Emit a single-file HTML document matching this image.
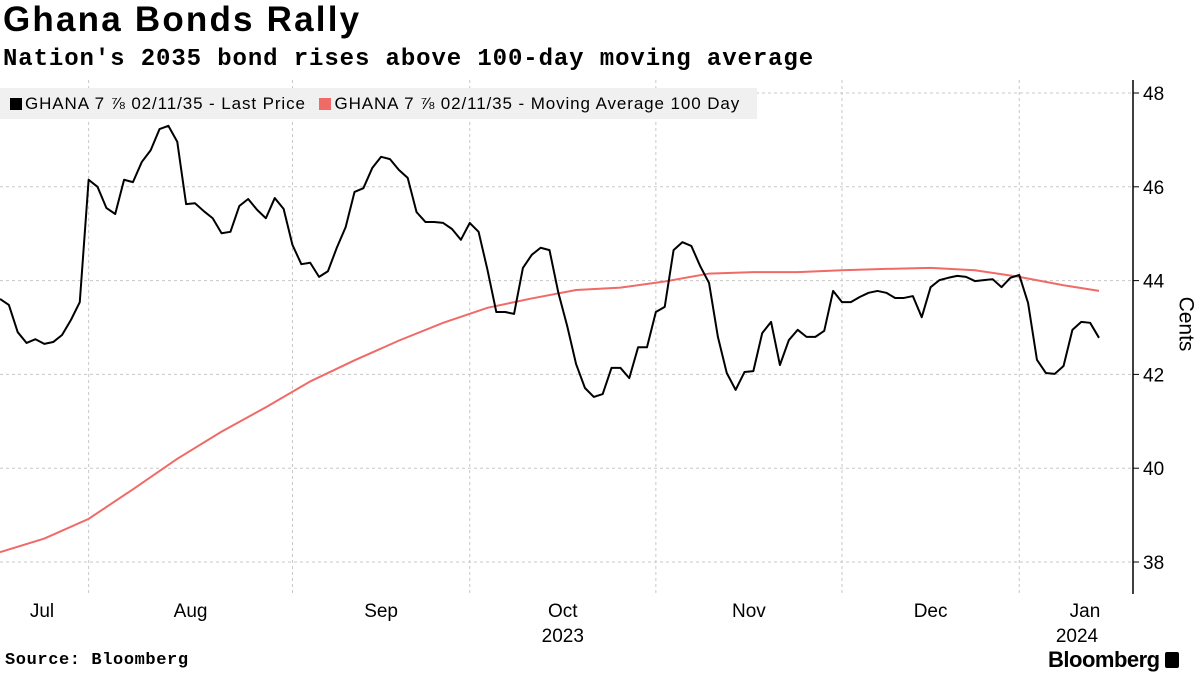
<!DOCTYPE html>
<html><head><meta charset="utf-8"><style>
body{margin:0;background:#fff;font-family:"Liberation Sans",sans-serif;}
#wrap{position:relative;width:1200px;height:675px;overflow:hidden;}
.t{position:absolute;white-space:nowrap;}
</style></head><body>
<div id="wrap">
<div class="t" style="left:3px;top:0px;font-size:35px;font-weight:bold;letter-spacing:2.2px">Ghana Bonds Rally</div>
<div class="t" style="left:3px;top:46px;font-size:24px;font-weight:bold;font-family:'Liberation Mono',monospace;letter-spacing:0.9px">Nation's 2035 bond rises above 100-day moving average</div>
<svg id="chart" width="1200" height="675" style="position:absolute;left:0;top:0"></svg>
<div class="t" style="left:0;top:88px;width:757px;height:31px;background:#f0f0f0;font-size:17px;line-height:31px;letter-spacing:0.9px">
<span style="margin-left:10px"><span style="display:inline-block;width:12px;height:12px;background:#000;vertical-align:-1px;margin-right:3px"></span>GHANA 7 ⅞ 02/11/35 - Last Price</span>
<span style="margin-left:8px"><span style="display:inline-block;width:12px;height:12px;background:#f06a67;vertical-align:-1px;margin-right:3px"></span>GHANA 7 ⅞ 02/11/35 - Moving Average 100 Day</span>
</div>
<div class="t" style="left:1158px;top:312px;font-size:21px;transform:rotate(90deg);">Cents</div>
<div class="t" style="left:5px;top:651px;font-size:17px;font-weight:bold;font-family:'Liberation Mono',monospace;letter-spacing:0.6px">Source: Bloomberg</div>
<div class="t" style="left:1048px;top:647px;font-size:22px;font-weight:bold;letter-spacing:-0.5px">Bloomberg <span style="display:inline-block;width:14px;height:16px;background:#000;border-radius:2px;vertical-align:-1px"></span></div>
</div>
<script>
const lastPrice=[43.61,43.48,42.90,42.67,42.75,42.65,42.69,42.84,43.16,43.54,46.15,46.00,45.55,45.42,46.15,46.10,46.53,46.78,47.23,47.30,46.96,45.63,45.65,45.48,45.33,45.01,45.04,45.59,45.74,45.51,45.33,45.76,45.53,44.76,44.35,44.38,44.08,44.20,44.70,45.14,45.89,45.97,46.40,46.64,46.59,
46.36,46.19,45.46,45.25,45.25,45.23,45.10,44.87,45.23,45.04,44.23,43.33,43.33,43.29,44.27,44.55,44.70,44.65,43.74,43.03,42.22,41.71,41.52,41.58,42.14,42.14,41.92,42.58,42.58,43.33,43.44,44.65,44.82,44.74,44.31,43.95,42.80,42.03,41.67,42.05,42.07,42.88,43.12,42.20,
42.73,42.95,42.80,42.80,42.93,43.78,43.54,43.54,43.65,43.74,43.78,43.74,43.63,43.63,43.67,43.22,43.86,44.01,44.06,44.10,44.08,43.99,44.01,44.03,43.86,44.06,44.12,43.52,42.31,42.03,42.01,42.18,42.95,43.12,43.10,42.78];
const maIndex=[0,5,10,15,20,25,30,35,40,45,50,55,60,65,70,75,80,85,90,95,100,105,110,115,120,124];
const maValues=[38.21,38.50,38.92,39.55,40.20,40.78,41.30,41.85,42.30,42.72,43.10,43.42,43.62,43.80,43.85,43.98,44.15,44.18,44.18,44.22,44.25,44.27,44.22,44.08,43.90,43.78];
const yTicks=[38,40,42,44,46,48];
const monthLabels=["Jul","Aug","Sep","Oct","Nov","Dec","Jan"];
const monthStartIdx=[-11,10,33,53,74,95,115];
const yearLabels=[["2023",3],["2024",6]];

const svg=document.getElementById('chart');const NS='http://www.w3.org/2000/svg';
const X0=0,DX=1099/124,Y0=93,PPU=46.9;
const x=i=>X0+i*DX, y=v=>Y0+(48-v)*PPU;
function mk(t,a,p){const e=document.createElementNS(NS,t);for(const k in a)e.setAttribute(k,a[k]);(p||svg).appendChild(e);return e;}
yTicks.forEach(v=>{
 const g=mk('line',{x1:0,x2:1133,y1:y(v),y2:y(v),stroke:'#c8c8c8','stroke-dasharray':'3,3'});
 
 
 const tk=mk('line',{x1:1133,x2:1139,y1:y(v),y2:y(v),stroke:'#000'});
 
 
 const t=mk('text',{x:1143,y:y(v)+7,'font-size':19,'font-family':'Liberation Sans,sans-serif'});t.textContent=v;
 
 
});
const bounds=monthStartIdx.slice(1).map(i=>x(i));
bounds.forEach(bx=>{
 const g=mk('line',{x1:bx,x2:bx,y1:80,y2:593,stroke:'#c8c8c8','stroke-dasharray':'3,3'});
 
 
});
monthLabels.forEach((m,k)=>{
 const a=Math.max(0,x(monthStartIdx[k])), b=k<6?x(monthStartIdx[k+1]):1150;
 const cx=k===0?42:(k===6?1085:(a+b)/2);
 const t=mk('text',{x:cx,y:617,'font-size':19,'text-anchor':'middle','font-family':'Liberation Sans,sans-serif'});t.textContent=m;
 
 
});
yearLabels.forEach(([yr,k])=>{
 const a=x(monthStartIdx[k]),b=k<6?x(monthStartIdx[k+1]):1150;
 const cx=k===6?1077:(a+b)/2;
 const t=mk('text',{x:cx,y:642,'font-size':19,'text-anchor':'middle','font-family':'Liberation Sans,sans-serif'});t.textContent=yr;
 
 
});
const ax=mk('line',{x1:1133,x2:1133,y1:80,y2:594,stroke:'#000','stroke-width':1.5});


const ma=mk('polyline',{points:maIndex.map((i,k)=>x(i)+','+y(maValues[k])).join(' '),fill:'none',stroke:'#f06a67','stroke-width':2});


const lp=mk('polyline',{points:lastPrice.map((v,i)=>x(i)+','+y(v)).join(' '),fill:'none',stroke:'#000','stroke-width':2,'stroke-linejoin':'round'});


</script>
</body></html>
